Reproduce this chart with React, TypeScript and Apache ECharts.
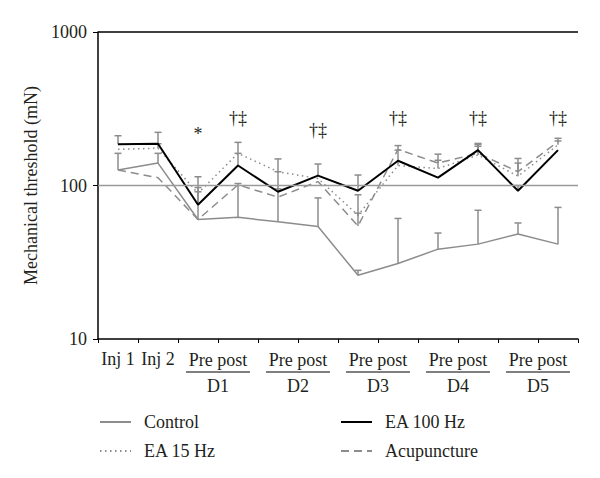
import React, { useEffect, useRef } from "react";
import * as echarts from "echarts";

const categories = ["Inj 1", "Inj 2", "D1 pre", "D1 post", "D2 pre", "D2 post", "D3 pre", "D3 post", "D4 pre", "D4 post", "D5 pre", "D5 post"];
const dayLabels = ["D1", "D2", "D3", "D4", "D5"];
const yTicks = [10, 100, 1000];

const controlMean = [126, 140, 60, 62, 58, 54, 26, 31, 38.5, 41.5, 48.3, 41.5];
const controlUpper = [162, 162, null, 103, 95, 83, 28, 61, 49, 69, 57, 72];
const ea100Mean = [186, 187, 75, 135, 91, 116, 92.5, 145, 112.5, 170, 92.5, 170];
const ea100Upper = [211, 222, 97, 162, 123, 138, 117, null, null, 188, 100, null];
const ea15Mean = [172, 175, 89, 162, 123, 111, 64, 135, 129, 158, 115, 184];
const ea15Upper = [null, 187, 114, 191, 149, null, 87, 170, 146, 180, 140, 195];
const acuMean = [126, 112.5, 60, 101, 84, 106, 54.5, 172, 140, 162, 123, 193];
const acuUpper = [null, null, 91, null, null, null, 66, 182, 160, 185, 150, 203];

const annotIndex = [2, 3, 5, 7, 9, 11];
const annotText = ["*", "†‡", "†‡", "†‡", "†‡", "†‡"];
const annotValue = [216, 275, 230, 275, 275, 275];

const GRAY = "#8c8c8c";
const FONT = "'Liberation Serif', 'DejaVu Serif', serif";
const TXT = "#231f20";
const FS = 18;

function errData(mean: number[], upper: (number | null)[]) {
  const out: number[][] = [];
  mean.forEach((m, i) => {
    const u = upper[i];
    if (u != null) out.push([i, m, u]);
  });
  return out;
}

function errSeries(name: string, mean: number[], upper: (number | null)[]) {
  return {
    type: "custom",
    name: name + " err",
    z: 1,
    clip: false,
    silent: true,
    encode: { x: 0, y: [1, 2] },
    data: errData(mean, upper),
    renderItem: (params: any, api: any) => {
      const x = api.value(0);
      const p0 = api.coord([x, api.value(1)]);
      const p1 = api.coord([x, api.value(2)]);
      const hw = 3.5;
      const st = { stroke: GRAY, lineWidth: 1.5 };
      return {
        type: "group",
        children: [
          { type: "line", shape: { x1: p0[0], y1: p0[1], x2: p1[0], y2: p1[1] }, style: st },
          { type: "line", shape: { x1: p1[0] - hw, y1: p1[1], x2: p1[0] + hw, y2: p1[1] }, style: st },
        ],
      };
    },
  };
}

const legendCommon = {
  orient: "vertical",
  top: 413,
  padding: 0,
  itemWidth: 31,
  itemHeight: 14,
  itemGap: 11,
  itemStyle: { opacity: 0, color: "transparent", borderColor: "transparent", borderWidth: 0 },
};

export default function App() {
  const ref = useRef<HTMLDivElement>(null);
  useEffect(() => {
    if (!ref.current) return;
    const chart = echarts.init(ref.current, undefined, { renderer: "svg" });
    const dayData = dayLabels.map((d, i) => [2 + 2 * i, 10, 3 + 2 * i]);
    chart.setOption({
      animation: false,
      textStyle: { fontFamily: FONT },
      grid: { left: 98, right: 22, top: 32, bottom: 139 },
      legend: [
        {
          ...legendCommon,
          data: ["Control", "EA 15 Hz"],
          left: 99,
          textStyle: { fontFamily: FONT, fontSize: FS, lineHeight: 14, color: TXT, padding: [0, 0, 0, 8] },
        },
        {
          ...legendCommon,
          data: ["EA 100 Hz", "Acupuncture"],
          left: 340,
          textStyle: { fontFamily: FONT, fontSize: FS, lineHeight: 14, color: TXT, padding: [0, 0, 0, 8] },
        },
      ],
      xAxis: {
        type: "category",
        data: categories,
        boundaryGap: true,
        axisLine: { lineStyle: { color: "#000", width: 1.5 } },
        axisTick: { show: true, length: 4, interval: 0, lineStyle: { color: "#000" } },
        axisLabel: {
          interval: 0,
          margin: 11,
          fontFamily: FONT,
          fontSize: FS,
          color: TXT,
          formatter: (v: string, i: number) => (i < 2 ? v : ""),
        },
      },
      yAxis: {
        type: "log",
        logBase: 10,
        min: 10,
        max: 1000,
        name: "Mechanical threshold (mN)",
        nameLocation: "middle",
        nameGap: 56,
        nameRotate: 90,
        nameTextStyle: { fontFamily: FONT, fontSize: FS, color: TXT },
        axisLine: { show: true, lineStyle: { color: "#000", width: 1.5 } },
        axisTick: { show: true, length: 5, lineStyle: { color: "#000" } },
        axisLabel: {
          margin: 11,
          fontFamily: FONT,
          fontSize: FS,
          color: TXT,
          formatter: (v: number) => (yTicks.includes(Math.round(v)) ? String(Math.round(v)) : ""),
        },
        splitLine: { show: false },
        minorTick: { show: false },
      },
      series: [
        errSeries("Control", controlMean, controlUpper),
        errSeries("EA 15 Hz", ea15Mean, ea15Upper),
        errSeries("Acupuncture", acuMean, acuUpper),
        errSeries("EA 100 Hz", ea100Mean, ea100Upper),
        {
          name: "Control",
          type: "line",
          data: controlMean,
          symbol: "none",
          z: 3,
          lineStyle: { color: GRAY, width: 1.5, type: "solid" },
          itemStyle: { color: GRAY },
          markLine: {
            silent: true,
            symbol: ["none", "none"],
            label: { show: false },
            data: [
              { yAxis: 100, lineStyle: { color: "#9a9a9a", width: 1.3, type: "solid" } },
              { yAxis: 1000, lineStyle: { color: "#000", width: 1.5, type: "solid" } },
            ],
          },
        },
        {
          name: "EA 15 Hz",
          type: "line",
          data: ea15Mean,
          symbol: "none",
          z: 3,
          lineStyle: { color: GRAY, width: 1.5, type: [1.5, 3.5] },
          itemStyle: { color: GRAY },
        },
        {
          name: "Acupuncture",
          type: "line",
          data: acuMean,
          symbol: "none",
          z: 3,
          lineStyle: { color: GRAY, width: 1.5, type: [8, 5] },
          itemStyle: { color: GRAY },
        },
        {
          name: "EA 100 Hz",
          type: "line",
          data: ea100Mean,
          symbol: "none",
          z: 4,
          lineStyle: { color: "#000", width: 2 },
          itemStyle: { color: "#000" },
        },
        {
          name: "annot",
          type: "custom",
          clip: false,
          silent: true,
          data: annotIndex.map((x, i) => [x, annotValue[i]]),
          renderItem: (params: any, api: any) => {
            const p = api.coord([api.value(0), api.value(1)]);
            return {
              type: "text",
              style: {
                text: annotText[params.dataIndex],
                x: p[0],
                y: p[1],
                align: "center",
                verticalAlign: "middle",
                fontFamily: FONT,
                fontSize: FS,
                fill: TXT,
              },
            };
          },
        },
        {
          name: "days",
          type: "custom",
          clip: false,
          silent: true,
          data: dayData,
          renderItem: (params: any, api: any) => {
            const pre = api.coord([api.value(0), 10]);
            const post = api.coord([api.value(2), 10]);
            const cx = (pre[0] + post[0]) / 2;
            const hw = (post[0] - pre[0]) * 0.8;
            const y0 = pre[1];
            return {
              type: "group",
              children: [
                {
                  type: "text",
                  style: { text: "Pre post", x: cx, y: y0 + 21, align: "center", verticalAlign: "middle", fontFamily: FONT, fontSize: FS, fill: TXT },
                },
                {
                  type: "line",
                  shape: { x1: cx - hw, y1: y0 + 33, x2: cx + hw, y2: y0 + 33 },
                  style: { stroke: "#000", lineWidth: 1.2 },
                },
                {
                  type: "text",
                  style: { text: dayLabels[params.dataIndex], x: cx, y: y0 + 47, align: "center", verticalAlign: "middle", fontFamily: FONT, fontSize: FS, fill: TXT },
                },
              ],
            };
          },
        },
      ],
    });
    return () => chart.dispose();
  }, []);
  return <div ref={ref} style={{ position: "absolute", left: 0, top: 0, width: 600, height: 478 }} />;
}
